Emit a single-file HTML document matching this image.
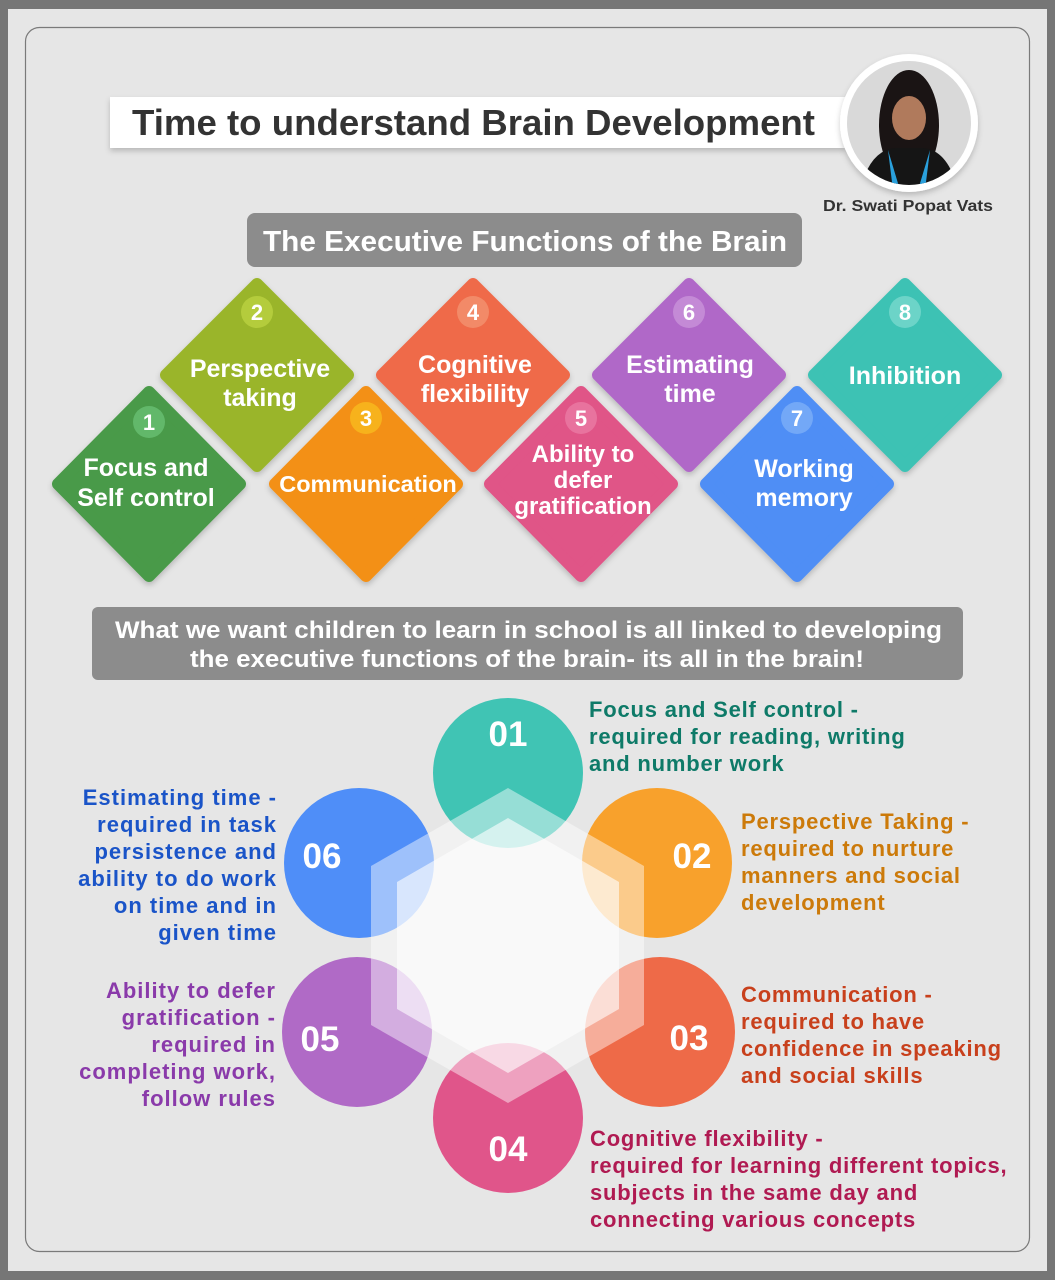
<!DOCTYPE html>
<html><head><meta charset="utf-8"><style>
html,body{margin:0;padding:0;background:#777;}
svg{display:block;font-family:"Liberation Sans",Arial,sans-serif;font-weight:bold;}
</style></head><body>
<svg width="1055" height="1280" viewBox="0 0 1055 1280" xmlns="http://www.w3.org/2000/svg">
<defs>
<filter id="sh" x="-20%" y="-20%" width="140%" height="140%"><feDropShadow dx="0" dy="3" stdDeviation="3" flood-color="#000" flood-opacity="0.2"/></filter>
<clipPath id="pc"><circle cx="909" cy="123" r="62"/></clipPath>
</defs>
<rect x="0" y="0" width="1055" height="1280" fill="#767676"/>
<rect x="8" y="9" width="1039" height="1262" fill="#e6e6e6"/>
<rect x="25.5" y="27.5" width="1004" height="1224" rx="14" fill="#e6e6e6" stroke="#7a7a7a" stroke-width="1.2"/>

<!-- title -->
<rect x="110" y="97" width="735" height="51" fill="#fff" filter="url(#sh)"/>
<text x="132" y="135" font-size="36" fill="#333" textLength="683" lengthAdjust="spacingAndGlyphs">Time to understand Brain Development</text>
<circle cx="909" cy="123" r="69" fill="#fff" filter="url(#sh)"/>
<circle cx="909" cy="123" r="62" fill="#d9d9d9"/>
<g clip-path="url(#pc)">
<ellipse cx="909" cy="125" rx="30" ry="55" fill="#1a1414"/>
<ellipse cx="909" cy="118" rx="17" ry="22" fill="#b07a5c"/>
<path d="M860 190 Q870 150 895 148 L923 148 Q948 150 958 190 Z" fill="#151515"/>
<path d="M888 150 L900 190 L893 190 Z M930 150 L918 190 L925 190 Z" fill="#2aa0dc"/>
</g>
<text x="823" y="211" font-size="16" fill="#333" textLength="170" lengthAdjust="spacingAndGlyphs">Dr. Swati Popat Vats</text>

<rect x="247" y="213" width="555" height="54" rx="8" fill="#8c8c8c"/>
<text x="263" y="251" font-size="29" fill="#fff" textLength="524" lengthAdjust="spacingAndGlyphs">The Executive Functions of the Brain</text>

<!-- diamonds -->
<g stroke-linejoin="round" stroke-width="12" filter="url(#sh)">
<polygon points="149,392 240,484 149,576 58,484" fill="#4a9a48" stroke="#4a9a48"/>
<polygon points="257,284 348,375 257,466 166,375" fill="#9ab52a" stroke="#9ab52a"/>
<polygon points="366,392 457,484 366,576 275,484" fill="#f39019" stroke="#f39019"/>
<polygon points="473,284 564,375 473,466 382,375" fill="#ef6a4a" stroke="#ef6a4a"/>
<polygon points="581,392 672,484 581,576 490,484" fill="#e05487" stroke="#e05487"/>
<polygon points="689,284 780,375 689,466 598,375" fill="#b068c8" stroke="#b068c8"/>
<polygon points="797,392 888,484 797,576 706,484" fill="#4f8ef5" stroke="#4f8ef5"/>
<polygon points="905,284 996,375 905,466 814,375" fill="#3cc2b4" stroke="#3cc2b4"/>
</g>
<g font-size="22" fill="#fff" text-anchor="middle">
<circle cx="149" cy="422" r="16" fill="#62b86a"/><text x="149" y="430">1</text>
<circle cx="257" cy="312" r="16" fill="#b4cc3c"/><text x="257" y="320">2</text>
<circle cx="366" cy="418" r="16" fill="#f7b21c"/><text x="366" y="426">3</text>
<circle cx="473" cy="312" r="16" fill="#f28a68"/><text x="473" y="320">4</text>
<circle cx="581" cy="418" r="16" fill="#e8739e"/><text x="581" y="426">5</text>
<circle cx="689" cy="312" r="16" fill="#c48ad6"/><text x="689" y="320">6</text>
<circle cx="797" cy="418" r="16" fill="#73a8f7"/><text x="797" y="426">7</text>
<circle cx="905" cy="312" r="16" fill="#6cd4c8"/><text x="905" y="320">8</text>
</g>
<g font-size="25" fill="#fff" text-anchor="middle">
<text x="146" y="476">Focus and</text><text x="146" y="506">Self control</text>
<text x="260" y="377">Perspective</text><text x="260" y="406">taking</text>
<text x="368" y="492" font-size="23.5">Communication</text>
<text x="475" y="373">Cognitive</text><text x="475" y="402">flexibility</text>
<text x="583" y="462" font-size="24">Ability to</text><text x="583" y="488" font-size="24">defer</text><text x="583" y="514" font-size="24">gratification</text>
<text x="690" y="373">Estimating</text><text x="690" y="402">time</text>
<text x="804" y="477">Working</text><text x="804" y="506">memory</text>
<text x="905" y="384">Inhibition</text>
</g>

<rect x="92" y="607" width="871" height="73" rx="6" fill="#8c8c8c"/>
<text x="115" y="638" font-size="24" fill="#fff" textLength="827" lengthAdjust="spacingAndGlyphs">What we want children to learn in school is all linked to developing</text>
<text x="190" y="667" font-size="24" fill="#fff" textLength="674" lengthAdjust="spacingAndGlyphs">the executive functions of the brain- its all in the brain!</text>

<!-- circles -->
<circle cx="508" cy="773" r="75" fill="#40c4b4"/>
<circle cx="657" cy="863" r="75" fill="#f8a12c"/>
<circle cx="660" cy="1032" r="75" fill="#ee6a48"/>
<circle cx="508" cy="1118" r="75" fill="#e0558a"/>
<circle cx="357" cy="1032" r="75" fill="#b06ac6"/>
<circle cx="359" cy="863" r="75" fill="#4f8ef8"/>
<polygon points="508,788 644,866 644,1025 508,1103 371,1025 371,866" fill="#fff" fill-opacity="0.45"/>
<polygon points="508,818 619,882 619,1009 508,1073 397,1009 397,882" fill="#fff" fill-opacity="0.6"/>
<g font-size="35" fill="#fff" text-anchor="middle">
<text x="508" y="746">01</text><text x="692" y="868">02</text><text x="689" y="1050">03</text>
<text x="508" y="1161">04</text><text x="320" y="1051">05</text><text x="322" y="868">06</text>
</g>
<g font-size="22" letter-spacing="0.8">
<g fill="#0e7a68"><text x="589" y="717">Focus and Self control -</text><text x="589" y="744">required for reading, writing</text><text x="589" y="771">and number work</text></g>
<g fill="#cc7a0a"><text x="741" y="829">Perspective Taking -</text><text x="741" y="856">required to nurture</text><text x="741" y="883">manners and social</text><text x="741" y="910">development</text></g>
<g fill="#c8401c"><text x="741" y="1002">Communication -</text><text x="741" y="1029">required to have</text><text x="741" y="1056">confidence in speaking</text><text x="741" y="1083">and social skills</text></g>
<g fill="#b01a52"><text x="590" y="1146">Cognitive flexibility -</text><text x="590" y="1173">required for learning different topics,</text><text x="590" y="1200">subjects in the same day and</text><text x="590" y="1227">connecting various concepts</text></g>
</g>
<g font-size="22" letter-spacing="1">
<g fill="#8a3aaa" text-anchor="end"><text x="276" y="998">Ability to defer</text><text x="276" y="1025">gratification -</text><text x="276" y="1052">required in</text><text x="276" y="1079">completing work,</text><text x="276" y="1106">follow rules</text></g>
<g fill="#1a54c8" text-anchor="end"><text x="277" y="805">Estimating time -</text><text x="277" y="832">required in task</text><text x="277" y="859">persistence and</text><text x="277" y="886">ability to do work</text><text x="277" y="913">on time and in</text><text x="277" y="940">given time</text></g>
</g>
</svg>
</body></html>
